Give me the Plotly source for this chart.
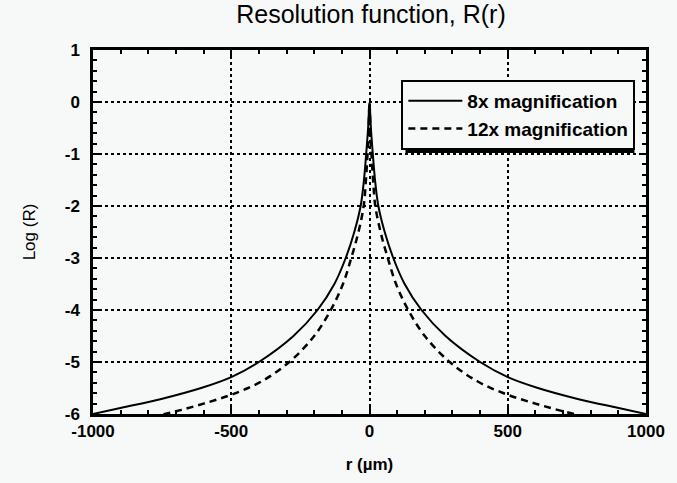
import plotly.graph_objects as go

# Resolution function, tabulated on the positive-r half (curves are symmetric in r)
r_8x = [0, 5, 12, 20, 32, 55, 86, 127, 188, 275, 400, 500, 609, 753, 897, 1000]
logR_8x = [0, -0.5, -1.0, -1.5, -2.0, -2.5, -3.0, -3.5, -4.0, -4.5, -5.0, -5.29, -5.5, -5.71, -5.88, -6.0]

r_12x = [0, 3, 7, 13, 21, 40, 66, 96, 140, 200, 290, 393, 500, 600, 680, 740, 820, 910, 1000]
logR_12x = [0, -0.5, -1.0, -1.5, -2.0, -2.5, -3.0, -3.5, -4.0, -4.5, -5.0, -5.38, -5.63, -5.8, -5.92, -6.0, -6.1, -6.2, -6.3]

x_ticks = [-1000, -500, 0, 500, 1000]
y_ticks = [1, 0, -1, -2, -3, -4, -5, -6]


def mirrored(r, v):
    xs = [-x for x in reversed(r[1:])] + list(r)
    ys = list(reversed(v[1:])) + list(v)
    return xs, ys


x8, y8 = mirrored(r_8x, logR_8x)
x12, y12 = mirrored(r_12x, logR_12x)

FONT = "Liberation Sans, Arial, sans-serif"
BG = "#f7f8f8"

fig = go.Figure()
fig.add_trace(go.Scatter(
    x=x8, y=y8, mode="lines", name="8x magnification",
    line=dict(color="black", width=2, shape="spline", smoothing=1.0),
))
fig.add_trace(go.Scatter(
    x=x12, y=y12, mode="lines", name="12x magnification",
    line=dict(color="black", width=2.5, dash="7px,5px", shape="spline", smoothing=1.0),
))
# empty trace that carries the top/right frame axes
fig.add_trace(go.Scatter(x=[], y=[], xaxis="x2", yaxis="y2", showlegend=False, hoverinfo="skip"))

axis_common = dict(
    showline=True, linecolor="black", linewidth=2.5, mirror=True,
    ticks="inside", ticklen=7, tickwidth=2, tickcolor="black",
    showgrid=True, gridcolor="black", gridwidth=1.5, griddash="dot",
    zeroline=False,
    tickfont=dict(family=FONT, size=17, color="black", weight="bold"),
)

fig.update_xaxes(
    range=[-1000, 1000], tickvals=x_ticks, ticktext=[str(v) for v in x_ticks],
    minor=dict(dtick=100, ticks="inside", ticklen=4, tickwidth=1.5, tickcolor="black", showgrid=False),
    title=dict(text="r (µm)", font=dict(family=FONT, size=17, color="black", weight="bold"), standoff=18),
    **axis_common,
)
fig.update_yaxes(
    range=[-6, 1], tickvals=y_ticks, ticktext=[str(v) for v in y_ticks],
    minor=dict(dtick=0.2, ticks="inside", ticklen=4, tickwidth=1.5, tickcolor="black", showgrid=False),
    ticklabelstandoff=7,
    title=dict(text="Log (R)", font=dict(family=FONT, size=17, color="black"), standoff=25),
    **axis_common,
)

frame_axis = dict(
    showline=False, showgrid=False, zeroline=False, showticklabels=False,
    ticks="inside", ticklen=7, tickwidth=2, tickcolor="black",
)
fig.update_layout(
    xaxis2=dict(overlaying="x", side="top", anchor="y", range=[-1000, 1000], tickvals=x_ticks,
                minor=dict(dtick=100, ticks="inside", ticklen=4, tickwidth=1.5, tickcolor="black"),
                **frame_axis),
    yaxis2=dict(overlaying="y", side="right", anchor="x", range=[-6, 1], tickvals=y_ticks,
                minor=dict(dtick=0.2, ticks="inside", ticklen=4, tickwidth=1.5, tickcolor="black"),
                **frame_axis),
)

# drop shadow behind the legend box (paper coordinates)
fig.add_shape(type="rect", xref="paper", yref="paper",
              x0=0.565, x1=0.979, y0=0.717, y1=0.905,
              fillcolor="black", line=dict(width=0), layer="above")

fig.update_layout(
    width=677, height=483,
    margin=dict(l=93, r=28, t=50, b=69),
    paper_bgcolor=BG, plot_bgcolor=BG,
    title=dict(text="Resolution function, R(r)", x=0.548, xanchor="center", y=0.988, yanchor="top",
               font=dict(family=FONT, size=25, color="black")),
    showlegend=True,
    legend=dict(
        x=0.5576, y=0.918, xanchor="left", yanchor="top",
        bgcolor=BG, bordercolor="black", borderwidth=2,
        font=dict(family=FONT, size=19, color="black", weight="bold"),
        tracegroupgap=0, itemwidth=54,
    ),
)

fig.write_html("out.html")
